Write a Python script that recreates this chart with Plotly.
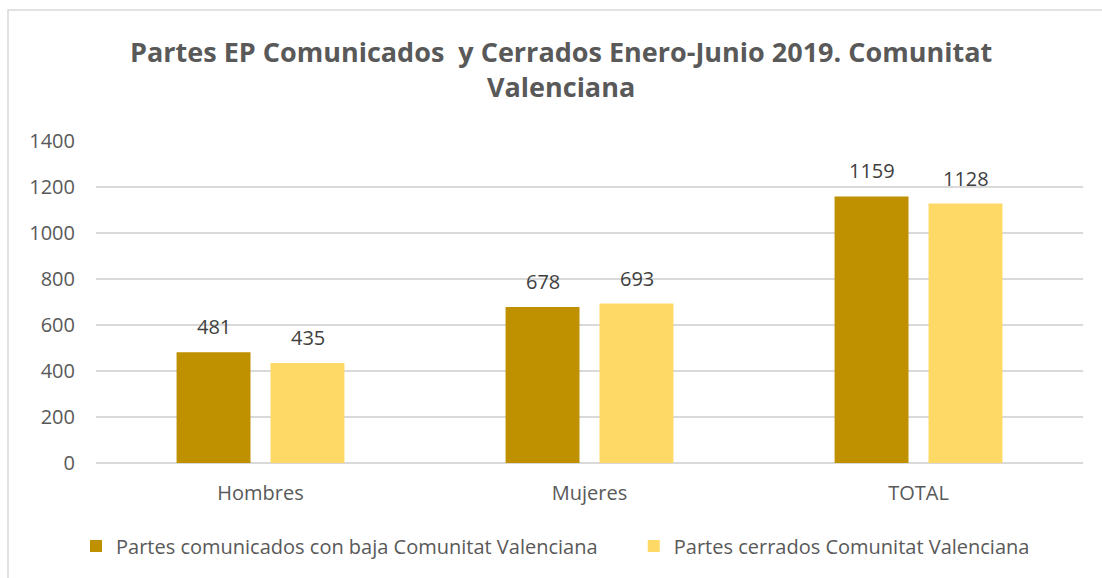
import plotly.graph_objects as go

categories = ["Hombres", "Mujeres", "TOTAL"]
comunicados = [481, 678, 1159]
cerrados = [435, 693, 1128]
series_names = ["Partes comunicados con baja Comunitat Valenciana",
                "Partes cerrados Comunitat Valenciana"]
title_lines = ["Partes EP Comunicados  y Cerrados Enero-Junio 2019. Comunitat", "Valenciana"]
y_ticks = [0, 200, 400, 600, 800, 1000, 1200, 1400]

FONT = "Open Sans"
GREY = "#595959"
DARK = "#BF9000"
LIGHT = "#FFD966"

W, H = 1102, 578
L, R, T, B = 96, 19, 141, 115
pw = W - L - R
ph = H - T - B

fig = go.Figure()
fig.add_trace(go.Bar(x=categories, y=comunicados,
                     name=series_names[0] + "\u00a0" * 6,
                     marker=dict(color=DARK, line=dict(width=0))))
fig.add_trace(go.Bar(x=categories, y=cerrados, name=series_names[1],
                     marker=dict(color=LIGHT, line=dict(width=0))))

OFF = 47 / (pw / 3)
annotations = []
for i, c in enumerate(categories):
    for vals, off in ((comunicados, -OFF), (cerrados, OFF)):
        annotations.append(dict(
            x=i + off, y=vals[i], xref="x", yref="y",
            text=str(vals[i]), showarrow=False, yanchor="bottom", yshift=10,
            font=dict(family=FONT, size=20, color="#404040")))

annotations.append(dict(
    x=(561 - L) / pw, y=(H - B - 69) / ph, xref="paper", yref="paper",
    text="<b>" + title_lines[0] + "<br>" + title_lines[1] + "</b>",
    showarrow=False, xanchor="center", yanchor="middle",
    font=dict(family=FONT, size=27, color=GREY)))

fig.update_layout(
    width=W, height=H,
    margin=dict(l=L, r=R, t=T, b=B),
    paper_bgcolor="white", plot_bgcolor="white",
    barmode="group", bargap=0.429, bargroupgap=0.213,
    showlegend=True,
    legend=dict(orientation="h", x=(76 - L) / pw, y=(H - B - 546) / ph,
                xanchor="left", yanchor="middle",
                font=dict(family=FONT, size=20, color=GREY),
                bgcolor="rgba(0,0,0,0)"),
    annotations=annotations,
    shapes=[dict(type="rect", xref="paper", yref="paper",
                 x0=(8 - L) / pw, x1=(W + 20 - L) / pw,
                 y0=(H - B - (H + 20)) / ph, y1=(H - B - 10) / ph,
                 line=dict(color="#D9D9D9", width=1.5), fillcolor="rgba(0,0,0,0)",
                 layer="below")],
    xaxis=dict(showgrid=False, showline=False, ticks="",
               tickfont=dict(family=FONT, size=20, color=GREY),
               ticklabelstandoff=16),
    yaxis=dict(range=[0, 1400], tickvals=y_ticks, showgrid=True,
               gridcolor="#D9D9D9", gridwidth=1.5, zeroline=True,
               zerolinecolor="#D9D9D9", zerolinewidth=1.5, showline=False,
               tickfont=dict(family=FONT, size=20, color=GREY),
               ticks="", ticklabelstandoff=20),
)

fig.write_html("out.html")
